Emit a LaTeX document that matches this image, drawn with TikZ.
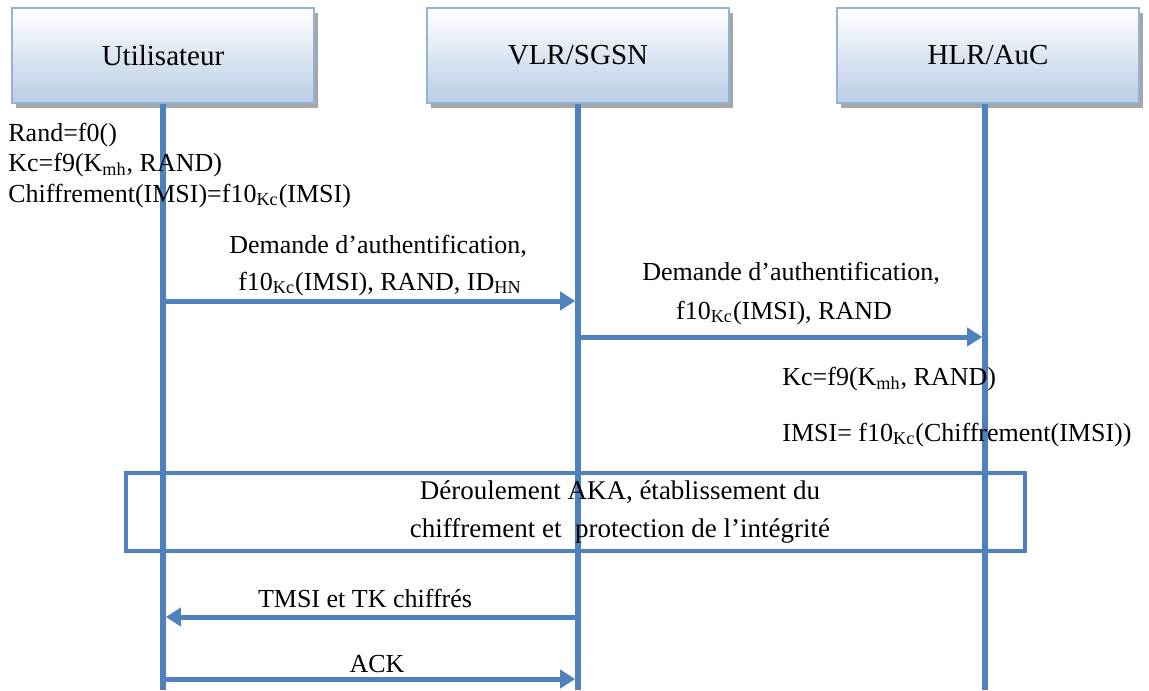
\documentclass[tikz,border=0pt]{standalone}
\usepackage{fontspec}
\setmainfont{Liberation Serif}
\usetikzlibrary{arrows.meta,shadows}

\definecolor{lineblue}{RGB}{79,129,189}
\definecolor{boxedge}{RGB}{149,179,215}
\definecolor{boxfill}{RGB}{185,205,229}
\newcommand{\ix}[1]{\textsubscript{#1}}

\begin{document}
\begin{tikzpicture}[x=0.5pt,y=-0.5pt,
  actor/.style={draw=boxedge,line width=1pt,top color=white,bottom color=boxfill,
    minimum width=151pt,minimum height=47.5pt,
    drop shadow={shadow xshift=2pt,shadow yshift=-2.5pt,fill=gray!70,opacity=1},
    font=\fontsize{14.5}{16}\selectfont},
  life/.style={lineblue,line width=2.8pt},
  msg/.style={lineblue,line width=2.5pt,-{Triangle[length=7.5pt,width=9pt]}},
  txt/.style={font=\fontsize{13}{15}\selectfont,inner sep=0pt}]
  \useasboundingbox (0,0) rectangle (1149,690);
  % entities
  \node[actor] (usr) at (163,55.5) {Utilisateur};
  \node[actor] (vlr) at (578,55.5) {VLR/SGSN};
  \node[actor] (hlr) at (988,55.5) {HLR/AuC};
  \coordinate (usrend) at (163,690);
  \coordinate (vlrend) at (578,690);
  \coordinate (hlrend) at (985,690);
  \draw[life] (usr.south) -- (usrend);
  \draw[life] (vlr.south) -- (vlrend);
  \draw[life] (hlrend |- hlr.south) -- (hlrend);
  % calcul cote utilisateur
  \node[txt,anchor=base west] (rnd) at (8,141) {Rand=f0()};
  \node[txt,anchor=base west] (kcu) at (8,171) {Kc=f9(K\ix{mh}, RAND)};
  \node[txt,anchor=base west] (chf) at (8,202) {Chiffrement(IMSI)=f10\ix{Kc}(IMSI)};
  % demande vers VLR
  \node[txt,anchor=base] (reqa) at (378,253) {Demande d’authentification,};
  \node[txt,anchor=base] (reqb) at (380,290) {f10\ix{Kc}(IMSI), RAND, ID\ix{HN}};
  \draw[msg,shorten >=1.4pt] (usr.south |- 0,301) -- (vlr.south |- 0,301);
  % demande vers HLR
  \node[txt,anchor=base] (fwda) at (791,280) {Demande d’authentification,};
  \node[txt,anchor=base] (fwdb) at (784,319) {f10\ix{Kc}(IMSI), RAND};
  \draw[msg,shorten >=1.4pt] (vlr.south |- 0,337) -- (hlrend |- 0,337);
  % calcul cote HLR
  \node[txt,anchor=base west] (kch) at (782,385) {Kc=f9(K\ix{mh}, RAND)};
  \node[txt,anchor=base west] (imsi) at (782,441) {IMSI= f10\ix{Kc}(Chiffrement(IMSI))};
  % AKA
  \node[draw=lineblue,line width=2pt,minimum width=449.5pt,minimum height=39pt]
    (aka) at (575.4,511.7) {};
  \node[txt,font=\fontsize{13.5}{15}\selectfont,align=center] (akatxt) at (620,512)
    {Déroulement AKA, établissement du\\[4pt]
    chiffrement et~ protection de l’intégrité};
  % TMSI et ACK
  \node[txt,anchor=base] (tmsi) at (365,607) {TMSI et TK chiffrés};
  \draw[msg,shorten >=1.4pt] (vlr.south |- 0,617) -- (usr.south |- 0,617);
  \node[txt,anchor=base] (ack) at (377,672) {ACK};
  \draw[msg,shorten >=1.4pt] (usr.south |- 0,679) -- (vlr.south |- 0,679);
\end{tikzpicture}
\end{document}
